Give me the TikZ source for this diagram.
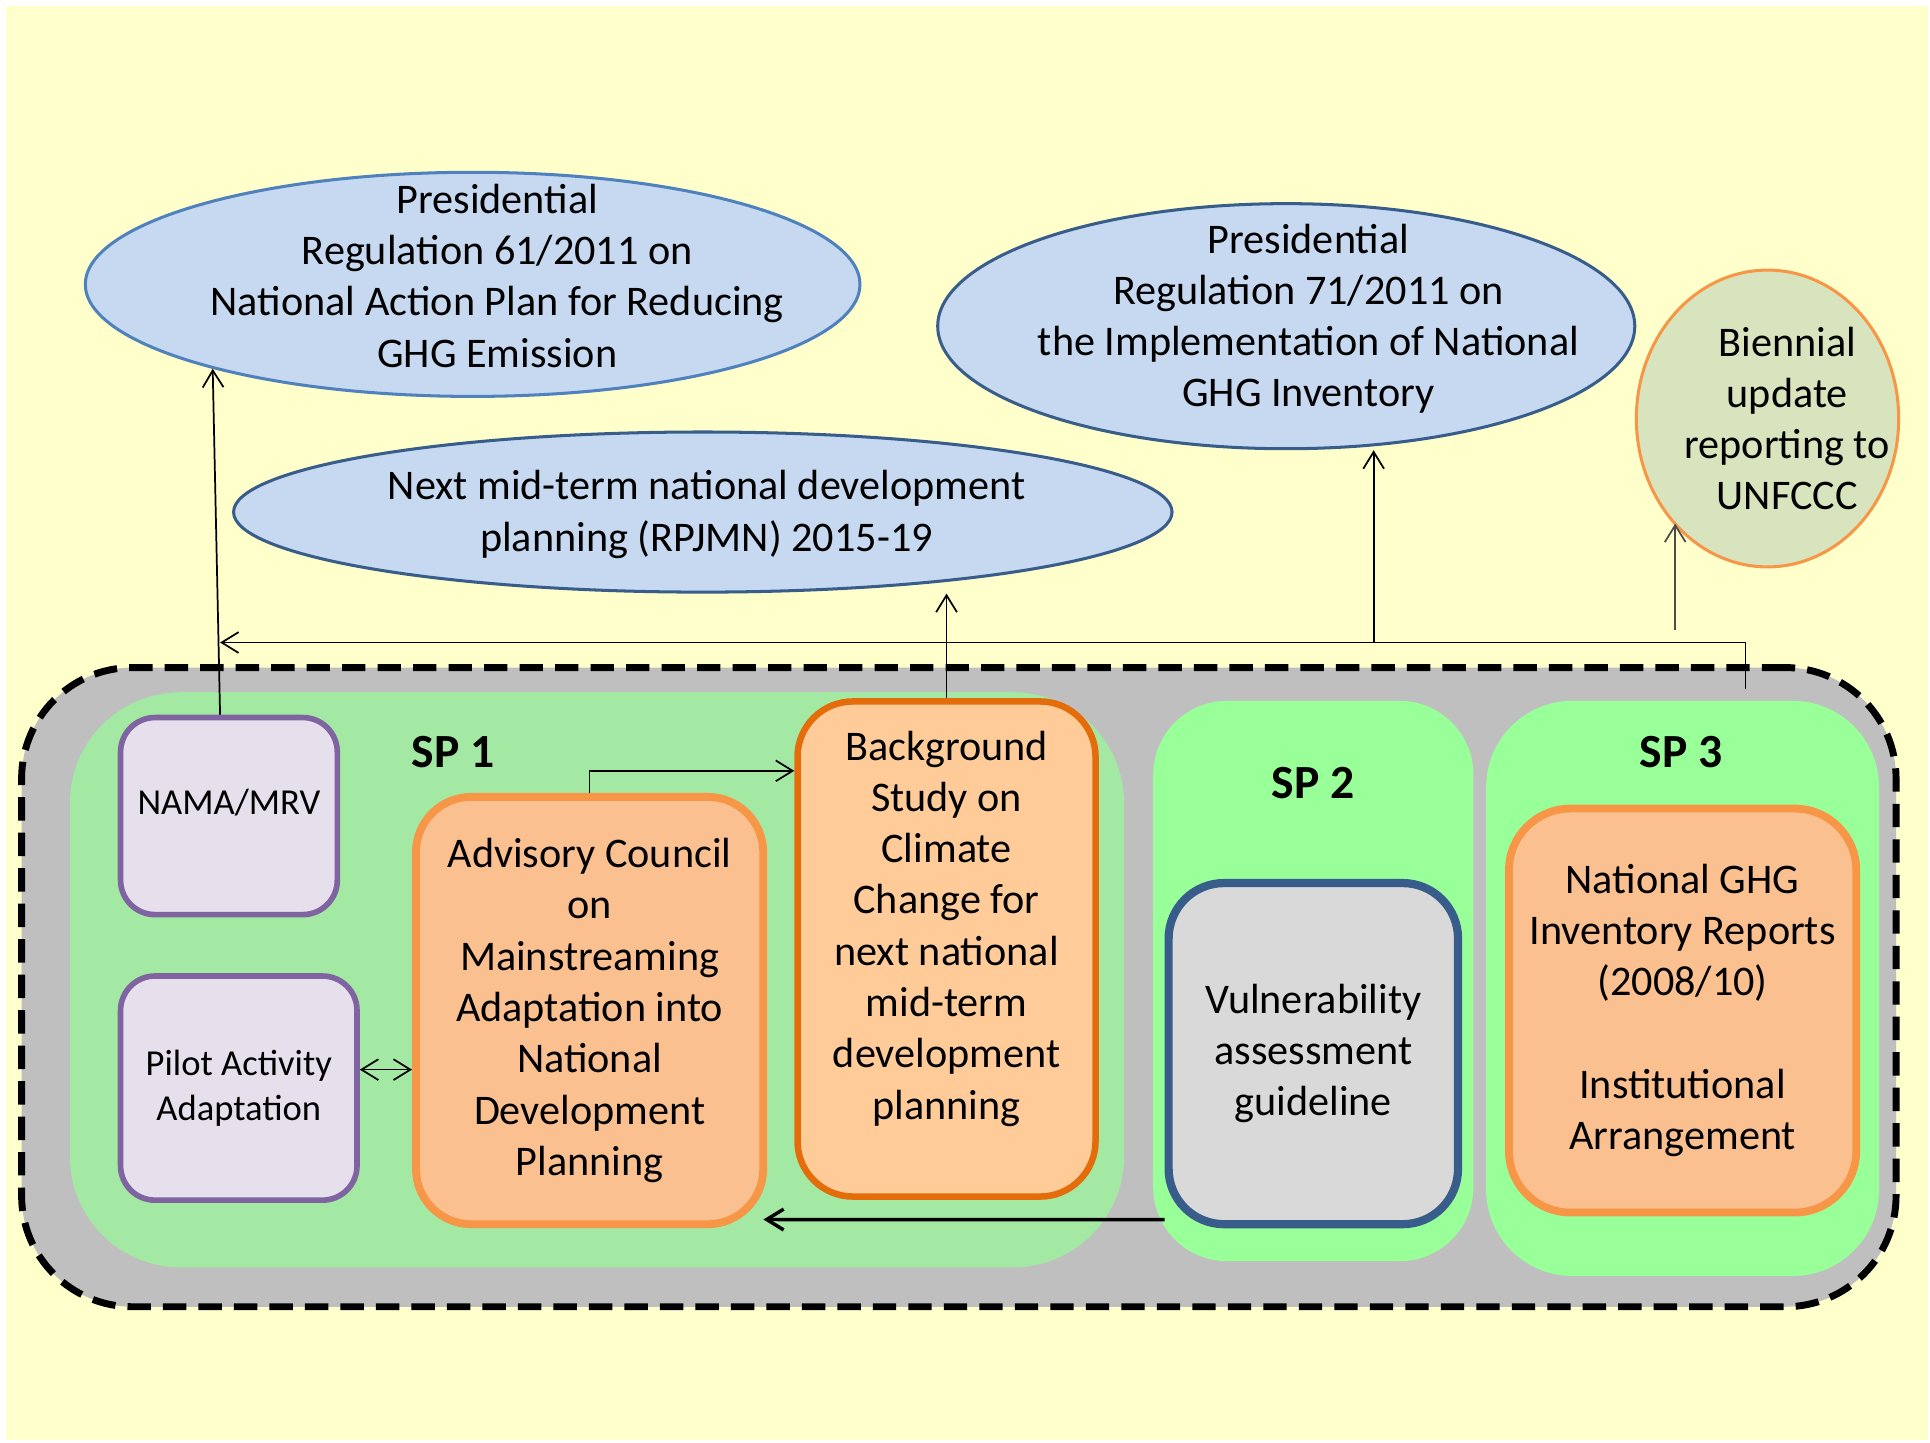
\documentclass[tikz,border=0pt]{standalone}
\usepackage{fontspec}
\setmainfont{Carlito}
\usepackage{tikz}
\usetikzlibrary{shapes.geometric,arrows.meta,calc}

\definecolor{paper}{HTML}{FFFFCC}
\definecolor{frame}{HTML}{BFBFBF}
\definecolor{spone}{HTML}{A3E8A3}
\definecolor{sptwo}{HTML}{99FF99}
\definecolor{lilac}{HTML}{E5E0EC}
\definecolor{purp}{HTML}{8064A2}
\definecolor{peach}{HTML}{FAC090}
\definecolor{orng}{HTML}{F79646}
\definecolor{apricot}{HTML}{FFCC99}
\definecolor{dkorng}{HTML}{E46C0A}
\definecolor{greybox}{HTML}{D9D9D9}
\definecolor{navy}{HTML}{385D8A}
\definecolor{sky}{HTML}{C6D9F1}
\definecolor{steel}{HTML}{4F81BD}
\definecolor{sage}{HTML}{D7E4BD}

\begin{document}
\begin{tikzpicture}[x=0.01cm,y=-0.01cm,
  every node/.style={font=\fontsize{9.75}{11.85}\selectfont,align=center},
  zone/.style={rounded corners=#1,inner sep=0pt},
  sub/.style={draw=purp,fill=lilac,line width=1.3pt,rounded corners=2.8mm,inner sep=0pt,font=\fontsize{8.45}{10.25}\selectfont},
  task/.style={draw=orng,fill=peach,line width=1.8pt,rounded corners=4.5mm,inner sep=0pt},
  reg/.style={ellipse,draw=navy,fill=sky,line width=0.7pt,inner sep=0pt},
  sp/.style={font=\fontsize{11}{13}\selectfont\bfseries},
  >={Straight Barb[length=3.9pt,width=4.8pt]},
  line width=0.4pt]

\fill[white] (0,0) rectangle (1568,1172);
\fill[paper] (5,5) rectangle (1566,1170);

\node[zone=9mm,draw,dash pattern=on 5.4pt off 2.8pt,line width=1.6pt,fill=frame,minimum width=15.22cm,minimum height=5.19cm] (pane) at (779,802) {};
\node[zone=9mm,fill=spone,minimum width=8.56cm,minimum height=4.67cm] (sp1) at (485,796) {};
\node[zone=6mm,fill=sptwo,minimum width=2.60cm,minimum height=4.55cm] (sp2) at (1067,797) {};
\node[zone=7mm,fill=sptwo,minimum width=3.19cm,minimum height=4.67cm] (sp3) at (1367,803) {};
\node[sp] (sp1t) at (368,611) {SP 1};
\node[sp] (sp2t) at (1067,636) {SP 2};
\node[sp] (sp3t) at (1366,611) {SP 3};

\node[sub,minimum width=1.76cm,minimum height=1.60cm,text height=5.5pt,text depth=6.3pt] (nama) at (186,663) {NAMA/MRV};
\node[sub,minimum width=1.92cm,minimum height=1.82cm] (pilot) at (194,884) {Pilot Activity\\Adaptation};
\node[task,minimum width=2.82cm,minimum height=3.47cm] (adv) at (479,821) {Advisory Council\\on\\Mainstreaming\\Adaptation into\\National\\Development\\Planning};
\node[task,draw=dkorng,fill=apricot,line width=1.5pt,minimum width=2.42cm,minimum height=4.02cm] (bg) at (769,771) {Background\\Study on\\Climate\\Change for\\next national\\mid-term\\development\\planning\\[-4.3pt]\strut};
\node[task,draw=navy,fill=greybox,line width=1.9pt,minimum width=2.35cm,minimum height=2.77cm] (vul) at (1067,856) {Vulnerability\\assessment\\guideline};
\node[task,rounded corners=5mm,minimum width=2.82cm,minimum height=3.28cm] (ghg) at (1367,821) {National GHG\\Inventory Reports\\(2008/10)\\ \\Institutional\\Arrangement};

\node[reg,draw=steel,minimum width=6.29cm,minimum height=1.82cm] (pr61) at (384,231) {};
\node[reg,minimum width=7.62cm,minimum height=1.30cm] (rpjmn) at (571,416) {};
\node[reg,minimum width=5.66cm,minimum height=1.99cm] (pr71) at (1045,265) {};
\node[reg,draw=orng,fill=sage,minimum width=2.13cm,minimum height=2.41cm] (bur) at (1436,340) {};
\node (pr61t) at (404,224) {Presidential\\Regulation 61/2011 on\\National Action Plan for Reducing\\GHG Emission};
\node (rpjmnt) at (574,418) {Next mid-term national development\\planning (RPJMN) 2015-19};
\node (pr71t) at (1063,259) {Presidential\\Regulation 71/2011 on\\the Implementation of National\\GHG Inventory};
\node (burt) at (1452,340) {Biennial\\update\\reporting to\\UNFCCC};

\coordinate (bar) at (0,522);
\coordinate (tap) at (1418,560);
\coordinate (fork) at (1116,522);
\coordinate (foot) at (1361,512);

\draw[->] (nama.95) -- (pr61.198);
\draw[->] (tap) |- (nama.95 |- bar);
\draw[->] (fork) -- (fork |- pr71.south);
\draw[->] (bg.north) -- (bg.north |- rpjmn.south);
\draw[->,black!70] (foot) -- (foot |- bur.228);
\draw[->] (adv.north) |- ($(bg.north west)+(0,59)$);
\draw[<->] ($(pilot.east)+(0,-15)$) -- ($(adv.west)+(0,48)$);
\draw[->,line width=0.8pt] ($(vul.south west)+(0,-7)$) -- ($(adv.south east)+(-3,-7)$);
\end{tikzpicture}
\end{document}
